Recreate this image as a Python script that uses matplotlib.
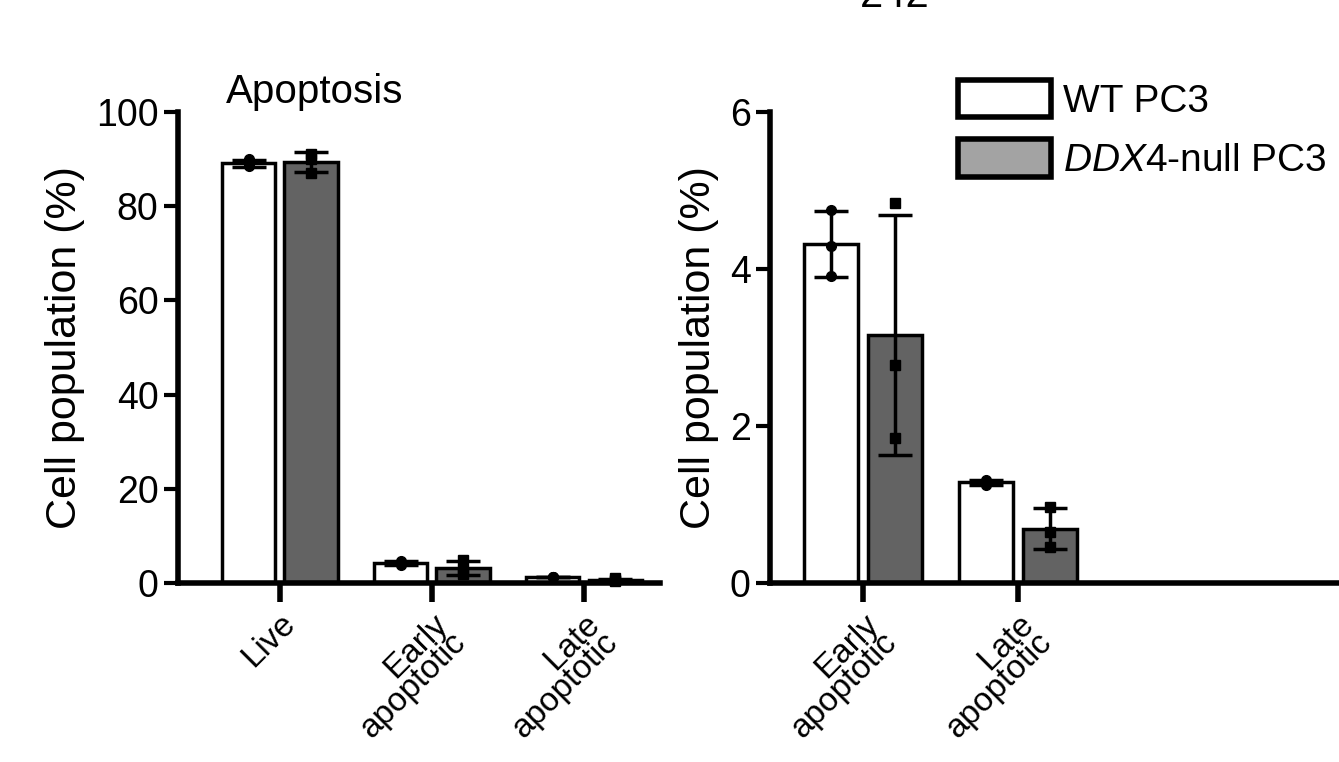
import matplotlib.pyplot as plt
from matplotlib.patches import Patch
import numpy as np

plt.rcParams['font.family'] = 'Liberation Sans'
plt.rcParams['mathtext.fontset'] = 'custom'
plt.rcParams['mathtext.it'] = 'Liberation Sans:italic'
plt.rcParams['mathtext.rm'] = 'Liberation Sans'

categories_all = ['Live', 'Early\napoptotic', 'Late\napoptotic']
wt_points = [[88.5, 90.0, 88.8], [4.75, 4.29, 3.91], [1.25, 1.31, 1.29]]
ddx4_points = [[91.0, 87.0, 90.0], [4.84, 2.78, 1.85], [0.97, 0.65, 0.46]]

WT_COLOR = 'white'
DDX4_COLOR = '#636363'
LEGEND_DDX4 = '#a3a3a3'

fig = plt.figure(figsize=(13.39, 7.62), dpi=100)
ax1 = fig.add_axes([178 / 1339, 1 - 583 / 762, (660 - 178) / 1339, 471 / 762])
ax2 = fig.add_axes([770 / 1339, 1 - 583 / 762, (1339 - 770) / 1339, 471 / 762])


def draw(ax, idx, ymax, yticks):
    w = 0.35
    off = 0.205
    for j, i in enumerate(idx):
        for pts, dx, col, mk in [(wt_points[i], -off, WT_COLOR, 'o'),
                                 (ddx4_points[i], off, DDX4_COLOR, 's')]:
            x = j + dx
            m = np.mean(pts)
            sd = np.std(pts, ddof=1)
            ax.bar(x, m, width=w, color=col, edgecolor='black', linewidth=2.5, zorder=2)
            ax.errorbar(x, m, yerr=sd, color='black', capsize=12, capthick=2.5,
                        elinewidth=2.5, zorder=3)
            ax.plot([x] * len(pts), pts, mk, color='black', markersize=7, zorder=4,
                    clip_on=False)
    ax.set_xticks(range(len(idx)))
    ax.set_xticklabels([categories_all[i] for i in idx], rotation=45, ha='right',
                       rotation_mode='anchor', fontsize=24, linespacing=0.8)
    ax.set_ylim(0, ymax)
    ax.set_yticks(yticks)
    ax.tick_params(axis='y', labelsize=27, width=3, length=10, pad=4)
    ax.tick_params(axis='x', width=4, length=14, pad=4)
    for s in ['top', 'right']:
        ax.spines[s].set_visible(False)
    for s in ['left', 'bottom']:
        ax.spines[s].set_linewidth(4)
    ax.set_ylabel('Cell population (%)', fontsize=31, labelpad=8)


draw(ax1, [0, 1, 2], 100, [0, 20, 40, 60, 80, 100])
draw(ax2, [1, 2], 6, [0, 2, 4, 6])
ax1.set_xlim(-0.67, 2.5)
ax2.set_xlim(-0.6, 3.07)

ax1.set_title('Apoptosis', fontsize=29, loc='left', x=0.1, y=1.02, pad=0)

handles = [Patch(facecolor=WT_COLOR, edgecolor='black', linewidth=4),
           Patch(facecolor=LEGEND_DDX4, edgecolor='black', linewidth=4)]
fig.legend(handles, ['WT PC3', r'$\it{DDX4}$-null PC3'], loc='upper left',
           bbox_to_anchor=(958 / 1339, 1 - 80 / 762), frameon=False, fontsize=28,
           handlelength=2.4, handleheight=1.1, handletextpad=0.3, labelspacing=0.5,
           borderaxespad=0, borderpad=0)

fig.text(895 / 1339, 1.005, '242', fontsize=30, ha='center', va='center')

fig.savefig('out.png', dpi=100)
